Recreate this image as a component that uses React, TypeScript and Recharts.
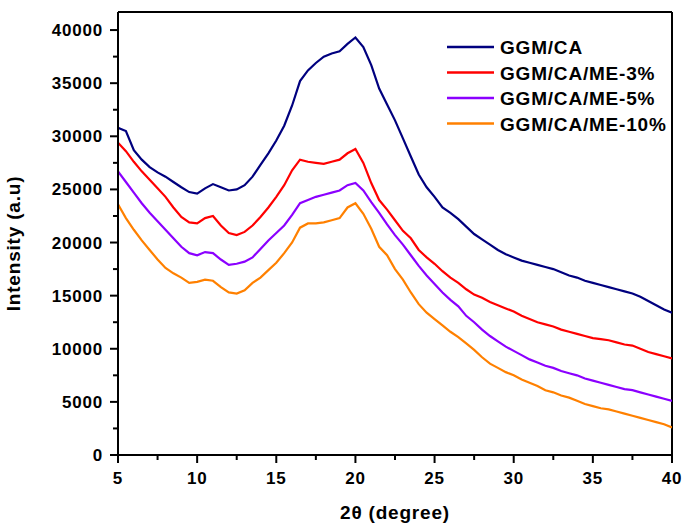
import React from 'react';
import { LineChart, Line, XAxis, YAxis, Legend, ReferenceLine } from 'recharts';

const twoTheta = [
  5, 5.5, 6, 6.5, 7, 7.5, 8, 8.5, 9, 9.5, 10, 10.5, 11, 11.5, 12, 12.5, 13, 13.5, 14, 14.5,
  15, 15.5, 16, 16.5, 17, 17.5, 18, 18.5, 19, 19.5, 20, 20.5, 21, 21.5, 22, 22.5, 23, 23.5, 24, 24.5,
  25, 25.5, 26, 26.5, 27, 27.5, 28, 28.5, 29, 29.5, 30, 30.5, 31, 31.5, 32, 32.5, 33, 33.5, 34, 34.5,
  35, 35.5, 36, 36.5, 37, 37.5, 38, 38.5, 39, 39.5, 40
];

const ggmCa = [
  30800, 30500, 28700, 27800, 27100, 26600, 26200, 25700, 25200, 24750, 24600, 25100, 25500, 25200, 24900, 25000, 25400, 26200, 27300, 28400,
  29600, 31000, 32900, 35200, 36200, 36900, 37500, 37800, 38000, 38700, 39300, 38400, 36700, 34500, 33000, 31500, 29800, 28100, 26400, 25200,
  24300, 23300, 22800, 22200, 21500, 20800, 20300, 19800, 19300, 18900, 18600, 18300, 18100, 17900, 17700, 17500, 17200, 16900, 16700, 16400,
  16200, 16000, 15800, 15600, 15400, 15200, 14900, 14500, 14100, 13700, 13400
];

const me3 = [
  29400, 28600, 27600, 26700, 25900, 25100, 24300, 23300, 22400, 21900, 21800, 22300, 22500, 21600, 20900, 20700, 21000, 21600, 22400, 23300,
  24300, 25400, 26800, 27800, 27600, 27500, 27400, 27600, 27800, 28400, 28800, 27500, 25600, 24000, 23100, 22100, 21100, 20400, 19300, 18600,
  18000, 17300, 16700, 16200, 15600, 15100, 14800, 14400, 14100, 13800, 13500, 13100, 12800, 12500, 12300, 12100, 11800, 11600, 11400, 11200,
  11000, 10900, 10800, 10600, 10400, 10300, 10000, 9700, 9500, 9300, 9100
];

const me5 = [
  26700, 25700, 24700, 23700, 22800, 22000, 21200, 20400, 19600, 19000, 18800, 19100, 19000, 18400, 17900, 18000, 18200, 18600, 19400, 20200,
  20900, 21600, 22600, 23700, 24000, 24300, 24500, 24700, 24900, 25400, 25600, 24900, 23800, 22800, 21700, 20700, 19800, 18800, 17800, 16900,
  16100, 15300, 14600, 14000, 13100, 12500, 11800, 11200, 10700, 10200, 9800, 9400, 9000, 8700, 8400, 8200, 7900, 7700, 7500, 7200,
  7000, 6800, 6600, 6400, 6200, 6100, 5900, 5700, 5500, 5300, 5100
];

const me10 = [
  23600, 22300, 21200, 20200, 19300, 18400, 17600, 17100, 16700, 16200, 16300, 16500, 16400, 15800, 15300, 15200, 15500, 16200, 16700, 17400,
  18100, 19000, 20000, 21400, 21800, 21800, 21900, 22100, 22300, 23300, 23700, 22700, 21300, 19600, 18800, 17500, 16500, 15300, 14200, 13400,
  12800, 12200, 11600, 11100, 10500, 9900, 9200, 8600, 8200, 7800, 7500, 7100, 6800, 6500, 6100, 5900, 5600, 5400, 5100, 4800,
  4600, 4400, 4300, 4100, 3900, 3700, 3500, 3300, 3100, 2900, 2600
];

const xTicks = [5, 7.5, 10, 12.5, 15, 17.5, 20, 22.5, 25, 27.5, 30, 32.5, 35, 37.5, 40];
const yTicks = [
  0, 2500, 5000, 7500, 10000, 12500, 15000, 17500, 20000, 22500, 25000, 27500, 30000, 32500, 35000, 37500, 40000
];

const series = [
  { key: 'ggmCa', name: 'GGM/CA', color: '#00007F' },
  { key: 'me3', name: 'GGM/CA/ME-3%', color: '#FF0000' },
  { key: 'me5', name: 'GGM/CA/ME-5%', color: '#8B00FF' },
  { key: 'me10', name: 'GGM/CA/ME-10%', color: '#FF8000' }
];

const data = twoTheta.map((x, i) => ({
  x,
  ggmCa: ggmCa[i],
  me3: me3[i],
  me5: me5[i],
  me10: me10[i]
}));

const FONT = '"Liberation Sans", Arial, Helvetica, sans-serif';
const Y_MAX = 41700;

function XTick({ x, y, payload }: any) {
  const major = payload.value % 5 === 0;
  return (
    <g>
      <line x1={x} x2={x} y1={y} y2={y + (major ? 8 : 5)} stroke="#000" strokeWidth={2} />
      {major && (
        <text
          x={x}
          y={y + 29}
          textAnchor="middle"
          fontFamily={FONT}
          fontWeight="bold"
          fontSize={17}
          letterSpacing={0.8}
          fill="#000"
        >
          {payload.value}
        </text>
      )}
    </g>
  );
}

function YTick({ x, y, payload }: any) {
  const major = payload.value % 5000 === 0;
  return (
    <g>
      <line x1={x - (major ? 8 : 5)} x2={x} y1={y} y2={y} stroke="#000" strokeWidth={2} />
      {major && (
        <text
          x={x - 15}
          y={y + 6}
          textAnchor="end"
          fontFamily={FONT}
          fontWeight="bold"
          fontSize={17}
          letterSpacing={0.8}
          fill="#000"
        >
          {payload.value}
        </text>
      )}
    </g>
  );
}

function LegendBox() {
  return (
    <svg width={230} height={110}>
      {series.map((s, i) => (
        <g key={s.key}>
          <line x1={0} x2={47} y1={12 + i * 25.5} y2={12 + i * 25.5} stroke={s.color} strokeWidth={2.5} />
          <text
            x={53}
            y={12 + i * 25.5 + 7}
            fontFamily={FONT}
            fontWeight="bold"
            fontSize={19}
            letterSpacing={0.8}
            fill="#000"
          >
            {s.name}
          </text>
        </g>
      ))}
    </svg>
  );
}

export default function App() {
  return (
    <div style={{ position: 'absolute', left: 0, top: 0, background: '#fff' }}>
      <LineChart width={685} height={528} data={data} margin={{ top: 12, right: 13, left: 0, bottom: 0 }}>
        <XAxis
          type="number"
          dataKey="x"
          domain={[5, 40]}
          ticks={xTicks}
          interval={0}
          height={73}
          tickSize={0}
          tickMargin={0}
          tick={<XTick />}
          axisLine={{ stroke: '#000', strokeWidth: 2 }}
          allowDataOverflow
          label={{
            content: ({ viewBox }: any) => (
              <text
                x={viewBox.x + viewBox.width / 2}
                y={viewBox.y + 64}
                textAnchor="middle"
                fontFamily={FONT}
                fontWeight="bold"
                fontSize={19}
                letterSpacing={0.8}
                fill="#000"
              >
                2θ (degree)
              </text>
            )
          }}
        />
        <YAxis
          type="number"
          domain={[0, Y_MAX]}
          ticks={yTicks}
          interval={0}
          width={118}
          tickSize={0}
          tickMargin={0}
          tick={<YTick />}
          axisLine={{ stroke: '#000', strokeWidth: 2 }}
          allowDataOverflow
          label={{
            content: ({ viewBox }: any) => {
              const cx = 20;
              const cy = viewBox.y + viewBox.height / 2 + 10;
              return (
                <text
                  x={cx}
                  y={cy}
                  transform={`rotate(-90 ${cx} ${cy})`}
                  textAnchor="middle"
                  fontFamily={FONT}
                  fontWeight="bold"
                  fontSize={19}
                  letterSpacing={0.8}
                  fill="#000"
                >
                  Intensity (a.u)
                </text>
              );
            }
          }}
        />
        <ReferenceLine y={Y_MAX} stroke="#000" strokeWidth={2} />
        <ReferenceLine x={40} stroke="#000" strokeWidth={2} />
        <Legend
          layout="vertical"
          align="center"
          verticalAlign="middle"
          content={<LegendBox />}
          wrapperStyle={{ position: 'absolute', left: 447, top: 35, width: 230, height: 110 }}
        />
        {series.map((s) => (
          <Line
            key={s.key}
            type="linear"
            dataKey={s.key}
            name={s.name}
            stroke={s.color}
            strokeWidth={2.2}
            dot={false}
            isAnimationActive={false}
          />
        ))}
      </LineChart>
    </div>
  );
}
